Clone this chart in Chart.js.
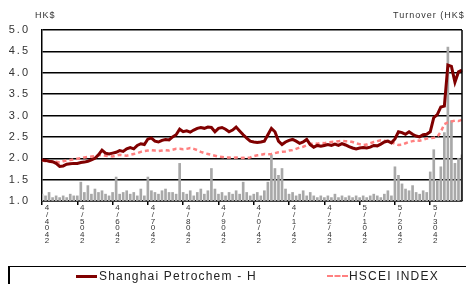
<!DOCTYPE html>
<html>
<head>
<meta charset="utf-8">
<script src="https://cdn.jsdelivr.net/npm/chart.js@4"></script>
<style>
  html, body { margin: 0; padding: 0; background: #fff; }
  #wrap { position: relative; width: 466px; height: 284px; overflow: hidden; font-family: 'Liberation Sans', Arial, sans-serif; }
  canvas { position: absolute; left: 0; top: 0; }
  .ttl { position: absolute; top: 10px; font-size: 9px; color: #333; letter-spacing: 1px; white-space: nowrap; }
  #legend { position: absolute; left: 8px; top: 266px; width: 470px; height: 20px; border: 1px solid #000; border-left-width: 2px; box-sizing: border-box; }
  .lg { position: absolute; top: 2px; font-size: 12px; color: #222; letter-spacing: 1.2px; white-space: nowrap; }
  .sw { position: absolute; top: 8px; width: 21px; height: 0; }
</style>
</head>
<body>
<div id="wrap">
  <canvas id="chart" width="466" height="284"></canvas>
  <div class="ttl" style="left:35px">HK$</div>
  <div class="ttl" style="left:393px">Turnover (HK$</div>
  <div id="legend">
    <div class="sw" style="left:66px;border-top:3px solid #800000"></div>
    <div class="lg" style="left:89px">Shanghai Petrochem - H</div>
    <div class="sw" style="left:317px;border-top:2.5px dashed #ff8080"></div>
    <div class="lg" style="left:339px">HSCEI INDEX</div>
  </div>
</div>
<script>
// month tick labels (stacked characters as in the picture)
const monthLabels = ['4/4042', '4/5042', '4/6042', '4/7042', '4/8042', '4/9042',
  '4/0/42', '4/1/42', '4/2/42', '5/1042', '5/2042', '5/3042'];

// Shanghai Petrochem - H (HK$), ~10 readings per month
const spcPrice = [
  1.96, 1.95, 1.93, 1.92, 1.88, 1.81, 1.82, 1.86, 1.87, 1.88,
  1.88, 1.90, 1.91, 1.93, 1.96, 2.00, 2.08, 2.19, 2.12, 2.10,
  2.12, 2.14, 2.18, 2.16, 2.22, 2.25, 2.22, 2.30, 2.34, 2.32,
  2.45, 2.47, 2.40, 2.38, 2.42, 2.44, 2.43, 2.50, 2.55, 2.68,
  2.62, 2.64, 2.61, 2.66, 2.70, 2.72, 2.70, 2.73, 2.72, 2.62,
  2.70, 2.72, 2.68, 2.62, 2.66, 2.73, 2.64, 2.55, 2.47, 2.40,
  2.38, 2.37, 2.38, 2.40, 2.55, 2.70, 2.62, 2.40, 2.32, 2.38,
  2.42, 2.44, 2.40, 2.35, 2.38, 2.44, 2.32, 2.26, 2.30, 2.28,
  2.30, 2.32, 2.30, 2.33, 2.30, 2.34, 2.31, 2.27, 2.24, 2.22,
  2.24, 2.25, 2.24, 2.26, 2.30, 2.29, 2.33, 2.38, 2.40, 2.36,
  2.45, 2.62, 2.60, 2.56, 2.62, 2.56, 2.52, 2.50, 2.55, 2.56,
  2.62, 2.95, 3.02, 3.20, 3.22, 4.18, 4.15, 3.78, 4.02, 4.06
];

// HSCEI index, rebased to HK$ scale
const hsceiIndex = [
  1.95, 1.93, 1.92, 1.91, 1.92, 1.90, 1.93, 1.95, 1.96, 1.97,
  1.99, 2.00, 2.02, 2.03, 2.04, 2.05, 2.07, 2.08, 2.06, 2.05,
  2.04, 2.06, 2.08, 2.07, 2.06, 2.08, 2.10, 2.12, 2.15, 2.17,
  2.18, 2.19, 2.18, 2.17, 2.18, 2.19, 2.18, 2.20, 2.22, 2.22,
  2.21, 2.22, 2.24, 2.22, 2.19, 2.15, 2.12, 2.10, 2.08, 2.06,
  2.04, 2.03, 2.02, 2.02, 2.01, 2.02, 2.00, 2.01, 2.00, 2.02,
  2.05, 2.07, 2.08, 2.10, 2.09, 2.10, 2.12, 2.14, 2.15, 2.16,
  2.18, 2.19, 2.22, 2.25, 2.27, 2.30, 2.33, 2.35, 2.34, 2.36,
  2.35, 2.37, 2.38, 2.39, 2.40, 2.41, 2.40, 2.40, 2.38, 2.35,
  2.33, 2.31, 2.32, 2.35, 2.38, 2.40, 2.42, 2.41, 2.40, 2.38,
  2.34, 2.31, 2.32, 2.35, 2.38, 2.40, 2.42, 2.41, 2.43, 2.46,
  2.47, 2.48, 2.50, 2.62, 2.80, 2.84, 2.86, 2.88, 2.87, 2.90
];

// Turnover (scaled units on the hidden right axis)
const turnover = [
  4, 3, 5, 2, 3, 2, 3, 2, 4, 3,
  3, 11, 5, 9, 4, 7, 5, 6, 4, 3,
  5, 14, 4, 5, 6, 4, 5, 3, 7, 3,
  14, 6, 5, 4, 6, 7, 5, 5, 4, 22,
  5, 4, 6, 3, 5, 7, 4, 6, 19, 7,
  4, 5, 3, 5, 4, 6, 4, 11, 5, 3,
  4, 5, 3, 6, 11, 27, 19, 15, 19, 7,
  4, 5, 3, 4, 6, 3, 5, 3, 2, 3,
  2, 3, 2, 4, 2, 3, 2, 3, 2, 3,
  2, 3, 2, 3, 4, 3, 2, 4, 6, 3,
  20, 15, 10, 7, 6, 9, 5, 4, 6, 5,
  17, 30, 12, 20, 40, 90, 47, 22, 25, 27
];

const perMonth = 10;
const categories = spcPrice.map((v, i) => i % perMonth === 0 ? monthLabels[i / perMonth] : '');

const frame = {
  id: 'frame',
  beforeDraw(chart) {
    chart.ctx.letterSpacing = '2px';
  },
  afterDatasetsDraw(chart) {
    const { ctx, chartArea: a } = chart;
    ctx.save();
    ctx.strokeStyle = '#000';
    ctx.lineWidth = 1.5;
    ctx.beginPath();
    ctx.moveTo(a.right, a.top);
    ctx.lineTo(a.right, a.bottom);
    ctx.stroke();
    ctx.restore();
  }
};

new Chart(document.getElementById('chart'), {
  data: {
    labels: categories,
    datasets: [
      {
        type: 'line',
        label: 'Shanghai Petrochem - H',
        data: spcPrice,
        borderColor: '#800000',
        borderWidth: 3,
        pointRadius: 0,
        tension: 0,
        yAxisID: 'y',
        order: 1
      },
      {
        type: 'line',
        label: 'HSCEI INDEX',
        data: hsceiIndex,
        borderColor: '#ff8080',
        borderWidth: 2.5,
        borderDash: [4, 3],
        pointRadius: 0,
        tension: 0,
        yAxisID: 'y',
        order: 2
      },
      {
        type: 'bar',
        label: 'Turnover',
        data: turnover,
        backgroundColor: '#a8a8a8',
        barThickness: 2,
        yAxisID: 'y2',
        order: 3
      }
    ]
  },
  options: {
    responsive: false,
    animation: false,
    layout: { padding: { top: 30, right: 4, left: 0, bottom: 0 } },
    plugins: { legend: { display: false }, tooltip: { enabled: false } },
    scales: {
      x: {
        type: 'category',
        offset: false,
        afterFit: s => { s.height = 83; },
        grid: { offset: false, drawOnChartArea: false, drawTicks: true, tickLength: 4, color: '#000', lineWidth: 1.5 },
        border: { display: true, color: '#000', width: 1.5 },
        ticks: {
          autoSkip: false,
          maxRotation: 0,
          minRotation: 0,
          labelOffset: 6,
          padding: 0,
          color: '#333',
          font: { family: "'Liberation Sans', Arial, sans-serif", size: 8, lineHeight: 0.82 },
          callback: (v, i) => i % perMonth === 0 ? categories[i].split('') : null
        }
      },
      y: {
        min: 1.0,
        max: 5.0,
        afterFit: s => { s.width = 42; },
        grid: { color: '#000', lineWidth: 1.5, drawTicks: false },
        border: { display: true, color: '#000', width: 1.5 },
        ticks: {
          stepSize: 0.5,
          padding: 12,
          color: '#333',
          font: { family: "'Liberation Sans', Arial, sans-serif", size: 11 },
          callback: v => v.toFixed(1)
        }
      },
      y2: {
        display: false,
        min: 0,
        max: 100
      }
    }
  },
  plugins: [frame]
});
</script>
</body>
</html>
